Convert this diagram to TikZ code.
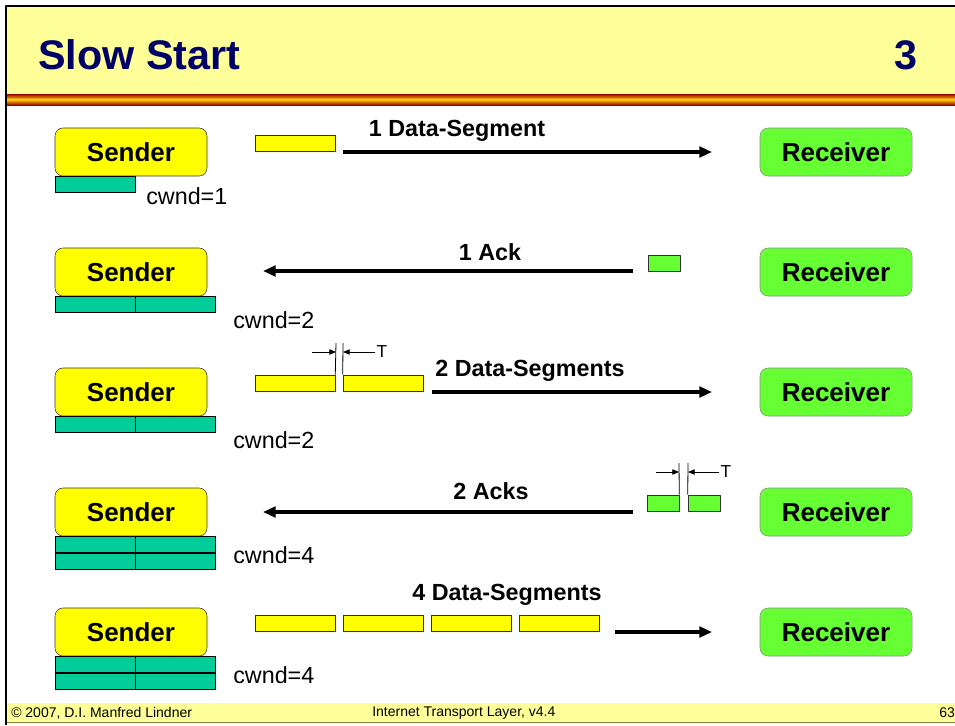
\documentclass[tikz,border=0pt]{standalone}
\usepackage{fontspec}
\setmainfont{Liberation Sans}
\usetikzlibrary{arrows.meta}
\definecolor{headyellow}{HTML}{FFFF99}
\definecolor{titleblue}{HTML}{000066}
\definecolor{segyellow}{HTML}{FFFF00}
\definecolor{ackgreen}{HTML}{66FF33}
\definecolor{wingreen}{HTML}{00CC99}
\definecolor{stripered}{HTML}{990000}
\definecolor{stripeorange}{HTML}{FFCC00}
\definecolor{footline}{HTML}{808040}
\begin{document}
\begin{tikzpicture}[x=.75pt, y=-.75pt, line join=round,
    station/.style={rounded corners=6pt, minimum width=114pt, minimum height=36pt,
        inner sep=0pt, font=\fontsize{19.5}{22}\selectfont\bfseries},
    sender/.style={station, draw=black!80, fill=segyellow},
    receiver/.style={station, draw=black!45, fill=ackgreen},
    seg/.style={draw=black!80, fill=segyellow, minimum width=60pt, minimum height=12pt, inner sep=0pt},
    ack/.style={seg, fill=ackgreen, minimum width=24pt},
    win/.style={draw, fill=wingreen, minimum width=60pt, minimum height=12pt, inner sep=0pt},
    flow/.style={line width=2.3pt, -{Triangle[length=9.5pt,width=8pt]}},
    gap/.style={line width=.6pt, -{Triangle[length=5pt,width=4pt]}},
    lbl/.style={font=\fontsize{17.5}{20}\selectfont\bfseries},
    cw/.style={anchor=west, inner sep=0pt, font=\fontsize{17.5}{20}\selectfont},
    foot/.style={anchor=west, inner sep=0pt, font=\fontsize{10.5}{12}\selectfont}]
\useasboundingbox (0,0) rectangle (955,725);
% header and footer
\fill[headyellow] (6,6) rectangle (960,95);
\shade[top color=stripered, bottom color=stripeorange] (6,94) rectangle (960,99.5);
\shade[top color=stripeorange, bottom color=stripered] (6,99.5) rectangle (960,105);
\fill[headyellow] (6,703) rectangle (960,722);
\draw[footline] (6,722) -- (960,722);
\draw[line width=1.5pt] (6,725) -- (6,6) -- (960,6);
\node[anchor=base west, inner sep=0pt, text=titleblue, font=\fontsize{31}{34}\selectfont\bfseries]
    (title) at (38,69) {Slow Start};
\node[anchor=base east, inner sep=0pt, text=titleblue, font=\fontsize{31}{34}\selectfont\bfseries]
    (part) at (918,69) {3};
\node[foot] (copy) at (11,713) {© 2007, D.I. Manfred Lindner};
\node[foot] (course) at (372,713) {Internet Transport Layer, v4.4};
\node[foot] (page) at (939,713) {63};
% stations
\foreach \row/\ypos in {1/152,2/272,3/392,4/512,5/632} {
    \node[sender] (snd\row) at (131,\ypos) {Sender};
    \node[receiver] (rcv\row) at (836,\ypos) {Receiver};
}
% congestion windows
\node[win, anchor=north west] (w1a) at (snd1.south west) {};
\node[win, anchor=north west] (w2a) at (snd2.south west) {};
\node[win, anchor=west] (w2b) at (w2a.east) {};
\node[win, anchor=north west] (w3a) at (snd3.south west) {};
\node[win, anchor=west] (w3b) at (w3a.east) {};
\node[win, anchor=north west] (w4a) at (snd4.south west) {};
\node[win, anchor=west] (w4b) at (w4a.east) {};
\node[win, anchor=north] (w4c) at (w4a.south) {};
\node[win, anchor=north] (w4d) at (w4b.south) {};
\node[win, anchor=north west] (w5a) at (snd5.south west) {};
\node[win, anchor=west] (w5b) at (w5a.east) {};
\node[win, anchor=north] (w5c) at (w5a.south) {};
\node[win, anchor=north] (w5d) at (w5b.south) {};
\node[cw] (cw1) at (146,196) {cwnd=1};
\node[cw] (cw2) at (233,320) {cwnd=2};
\node[cw] (cw3) at (233,440) {cwnd=2};
\node[cw] (cw4) at (233,555) {cwnd=4};
\node[cw] (cw5) at (233,675) {cwnd=4};
% row 1
\node[seg] (d1) at (295,143) {};
\coordinate (f1s) at (343,152);
\coordinate (f1e) at (712,152);
\draw[flow] (f1s) -- (f1e);
\node[lbl] (l1) at (457,131) {1 Data-Segment};
% row 2
\node[ack] (a2) at (664,263) {};
\coordinate (f2s) at (633,271);
\coordinate (f2e) at (263,271);
\draw[flow] (f2s) -- (f2e);
\node[lbl] (l2) at (490,252) {1 Ack};
% row 3
\node[seg] (d31) at (295,383) {};
\node[seg] (d32) at (383,383) {};
\coordinate (t3a) at (336,343);
\coordinate (t3b) at (343,343);
\coordinate (t3l) at (312,352);
\coordinate (t3r) at (375,352);
\draw[line width=.6pt] (d31.north east) -- (t3a);
\draw[line width=.6pt] (d32.north west) -- (t3b);
\draw[gap] (t3l) -- (t3l -| t3a);
\draw[gap] (t3r) -- (t3r -| t3b);
\node[anchor=west, inner sep=1pt, font=\fontsize{13}{15}\selectfont] (tl3) at (t3r) {T};
\coordinate (f3s) at (432,392);
\coordinate (f3e) at (712,392);
\draw[flow] (f3s) -- (f3e);
\node[lbl] (l3) at (530,371) {2 Data-Segments};
% row 4
\node[ack] (a41) at (663,503) {};
\node[ack] (a42) at (704,503) {};
\coordinate (t4a) at (679,463);
\coordinate (t4b) at (688,463);
\coordinate (t4l) at (656,472);
\coordinate (t4r) at (719,472);
\draw[line width=.6pt] (a41.north east) -- (t4a);
\draw[line width=.6pt] (a42.north west) -- (t4b);
\draw[gap] (t4l) -- (t4l -| t4a);
\draw[gap] (t4r) -- (t4r -| t4b);
\node[anchor=west, inner sep=1pt, font=\fontsize{13}{15}\selectfont] (tl4) at (t4r) {T};
\coordinate (f4s) at (633,512);
\coordinate (f4e) at (263,512);
\draw[flow] (f4s) -- (f4e);
\node[lbl] (l4) at (491,491) {2 Acks};
% row 5
\foreach \k/\xpos in {1/295,2/383,3/471,4/559}
    \node[seg] (d5\k) at (\xpos,623) {};
\coordinate (f5s) at (615,632);
\coordinate (f5e) at (712,632);
\draw[flow] (f5s) -- (f5e);
\node[lbl] (l5) at (507,595) {4 Data-Segments};
\end{tikzpicture}
\end{document}
